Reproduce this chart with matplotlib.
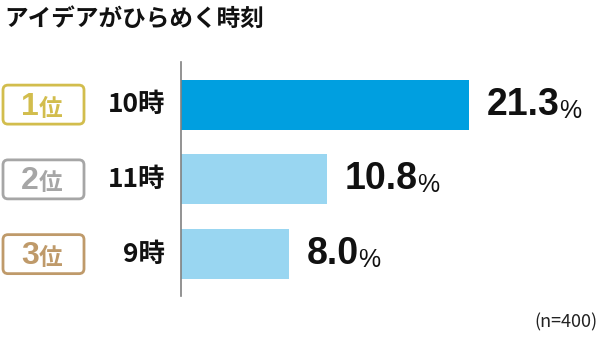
import matplotlib
matplotlib.use("Agg")
import matplotlib.pyplot as plt
from matplotlib.patches import FancyBboxPatch
from matplotlib import transforms

plt.rcParams['font.family'] = ['Noto Sans CJK JP', 'DejaVu Sans']

title = "アイデアがひらめく時刻"
ranks = ["1", "2", "3"]
times = ["10時", "11時", "9時"]
values = [21.3, 10.8, 8.0]
note = "(n=400)"

bar_colors = ["#009fe0", "#99d6f1", "#99d6f1"]
rank_colors = ["#d2bd4d", "#a6a6a6", "#bf9a6a"]

W, H = 600, 340
fig = plt.figure(figsize=(6, 3.4), dpi=100)
ax = fig.add_axes([181 / W, 44 / H, 419 / W, 234 / H])

ypos = list(range(len(values)))
ax.barh(ypos, values, height=0.667, color=bar_colors)
ax.set_xlim(0, 31.0)
ax.set_ylim(2.56, -0.57)

for s in ["top", "right", "bottom"]:
    ax.spines[s].set_visible(False)
ax.spines["left"].set_color("#808080")
ax.spines["left"].set_linewidth(1.2)
ax.set_xticks([])
ax.set_yticks([])

num_font = ["Liberation Sans", "DejaVu Sans"]
renderer = fig.canvas.get_renderer()

# value labels, with a smaller % right after the number
for y, v in zip(ypos, values):
    t = ax.annotate(f"{v:.1f}", (v, y), xytext=(13, 0), textcoords="offset points",
                    ha="left", va="center", fontsize=27, fontweight="bold",
                    family=num_font, color="#111111")
    bb = t.get_window_extent(renderer)
    ax.annotate("%", (bb.x1 - 1, bb.y0 + 5), xycoords="figure pixels",
                ha="left", va="baseline", fontsize=18, family=num_font,
                color="#111111")

# rank badges and time labels (pixel space)
px = transforms.Affine2D().scale(1 / W, 1 / H) + fig.transFigure
for y, r, t, c in zip(ypos, ranks, times, rank_colors):
    yc = ax.transData.transform((0, y))[1]
    box = FancyBboxPatch((3, yc - 19.5), 81, 39, boxstyle="round,pad=0,rounding_size=5",
                         transform=px, fc="white", ec=c, lw=2, clip_on=False)
    fig.patches.append(box)
    fig.text(21 / W, (yc - 10) / H, r, ha="left", va="baseline",
             fontsize=23, fontweight="bold", color=c, family=num_font)
    fig.text(39 / W, (yc - 11) / H, "位", ha="left", va="baseline",
             fontsize=17, fontweight="bold", color=c)
    fig.text(165 / W, yc / H, t, ha="right", va="center", fontsize=19,
             fontweight="bold", color="#111111")

fig.text(4 / W, (H - 19) / H, title, ha="left", va="center", fontsize=17,
         fontweight="bold", color="#111111")
fig.text(597 / W, (H - 322) / H, note, ha="right", va="center", fontsize=13,
         color="#222222")

fig.savefig("out.png", dpi=100)
